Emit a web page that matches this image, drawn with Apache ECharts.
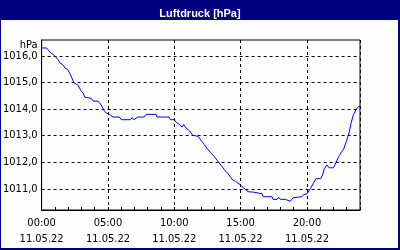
<!DOCTYPE html>
<html>
<head>
<meta charset="utf-8">
<script src="https://cdn.jsdelivr.net/npm/echarts@6/dist/echarts.min.js"></script>
<style>
html,body{margin:0;padding:0;background:#fcfefc;}
#c{width:400px;height:250px;}
</style>
</head>
<body>
<div id="c"></div>
<script>
// Data (hour of day, pressure in hPa)
const hours = [0,0.375,0.62,0.75,1.0,1.25,1.37,1.63,1.75,1.95,2.12,2.3,2.42,2.75,2.95,3.13,3.25,3.37,3.75,3.88,4.25,4.5,4.7,4.87,5.12,5.25,5.38,5.87,6.0,6.7,6.83,6.95,7.25,7.75,7.87,8.62,8.7,9.6,9.7,10.0,10.15,10.4,10.58,10.7,10.9,11.15,11.37,11.8,12.05,12.25,12.5,12.75,13.0,13.25,13.55,13.8,14.05,14.37,14.62,14.95,15.12,15.37,15.55,16.0,16.05,16.62,16.7,17.37,17.45,17.75,17.87,18.0,18.37,18.5,18.75,18.95,19.05,19.62,19.75,20.0,20.12,20.3,20.5,20.68,21.05,21.2,21.3,21.5,21.67,22.0,22.2,22.4,22.6,22.75,23.0,23.17,23.33,23.5,23.7,23.83,23.95,24.0];
const pressure = [1016.3,1016.3,1016.15,1016.1,1016.0,1015.85,1015.75,1015.65,1015.55,1015.5,1015.35,1015.15,1015.0,1014.9,1014.7,1014.6,1014.45,1014.4,1014.4,1014.3,1014.3,1014.15,1013.95,1013.85,1013.8,1013.8,1013.7,1013.7,1013.6,1013.6,1013.68,1013.6,1013.7,1013.7,1013.8,1013.8,1013.7,1013.7,1013.6,1013.6,1013.5,1013.42,1013.32,1013.42,1013.28,1013.18,1013.02,1012.97,1012.8,1012.67,1012.5,1012.35,1012.22,1012.06,1011.87,1011.7,1011.57,1011.35,1011.28,1011.16,1011.07,1010.97,1010.89,1010.87,1010.81,1010.81,1010.7,1010.7,1010.6,1010.6,1010.68,1010.6,1010.6,1010.53,1010.53,1010.66,1010.7,1010.7,1010.78,1010.81,1010.88,1011.04,1011.22,1011.38,1011.38,1011.55,1011.75,1011.9,1011.79,1011.79,1012.0,1012.22,1012.38,1012.47,1012.82,1013.1,1013.47,1013.79,1013.97,1014.07,1014.1,1014.12];

const xTickHours = [0,5,10,15,20];
const xTickLabels = ['00:00','05:00','10:00','15:00','20:00'];
const dateLabel = '11.05.22';
const yTickValues = [1011,1012,1013,1014,1015,1016];
const titleText = 'Luftdruck [hPa]';
const unitText = 'hPa';

const seriesData = hours.map((h,i)=>[h,pressure[i]]);
const labelFont = '"Liberation Sans Narrow","DejaVu Sans Condensed","Liberation Sans",sans-serif';

const chart = echarts.init(document.getElementById('c'), null, {renderer:'canvas'});
chart.setOption({
  animation:false,
  backgroundColor:'#fcfefc',
  title:{
    text:titleText, left:'center', top:3,
    textStyle:{color:'#ffffff', fontSize:11, fontWeight:'bold', fontFamily:'"Liberation Sans",sans-serif'}
  },
  graphic:[
    {type:'rect', z:-1, shape:{x:0,y:0,width:400,height:20}, style:{fill:'#000080'}},
    {type:'rect', shape:{x:0,y:0,width:1,height:250}, style:{fill:'#000080'}},
    {type:'rect', shape:{x:398,y:0,width:2,height:250}, style:{fill:'#000080'}},
    {type:'rect', shape:{x:0,y:248,width:400,height:2}, style:{fill:'#000080'}}
  ],
  grid:{left:40, top:40, right:40, bottom:40, show:true, borderColor:'#000', borderWidth:1, backgroundColor:'transparent', containLabel:false},
  xAxis:[{
    type:'value', min:0, max:24, interval:5,
    axisLine:{show:true, lineStyle:{color:'#000', width:1}},
    axisTick:{show:false},
    axisLabel:{
      showMaxLabel:false, margin:5, lineHeight:16,
      color:'#000', fontSize:11, fontFamily:labelFont,
      formatter:function(v){ const i = xTickHours.indexOf(v); return i<0 ? '' : xTickLabels[i]+'\n'+dateLabel; }
    },
    splitLine:{show:true, lineStyle:{color:'#000', width:1, type:[3,3]}}
  },{
    type:'value', min:0, max:24, interval:1, position:'bottom',
    axisLine:{show:false},
    axisTick:{show:true, inside:true, length:3, lineStyle:{color:'#000'}},
    axisLabel:{show:false},
    splitLine:{show:false}
  }],
  yAxis:{
    type:'value', min:1010.2, max:1016.6,
    name:unitText, nameLocation:'end', nameGap:-12,
    nameTextStyle:{color:'#000', fontSize:11, fontFamily:labelFont, align:'right', verticalAlign:'bottom', padding:[0,4,0,0]},
    axisLine:{show:true, lineStyle:{color:'#000', width:1}},
    axisTick:{show:false, customValues:yTickValues},
    axisLabel:{customValues:yTickValues, margin:4, color:'#000', fontSize:11, fontFamily:labelFont,
      formatter:function(v){ return v.toFixed(1).replace('.', ','); }},
    splitLine:{show:true, lineStyle:{color:'#000', width:1, type:[3,3]}}
  },
  series:[{
    type:'line', xAxisIndex:0, data:seriesData, showSymbol:false, symbol:'none',
    lineStyle:{color:'#0000ff', width:1}, clip:true
  }]
});
</script>
</body>
</html>
